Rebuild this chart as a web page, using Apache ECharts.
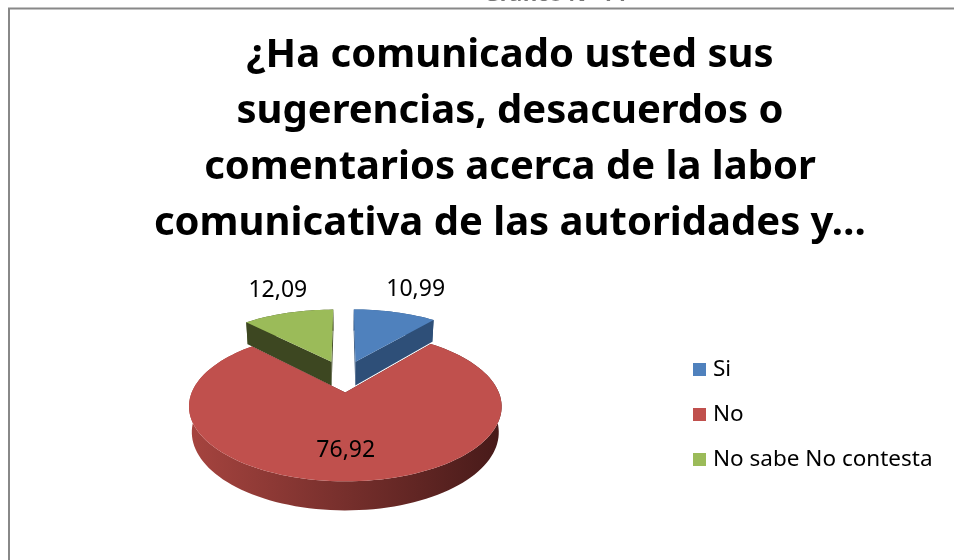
<!DOCTYPE html>
<html>
<head>
<meta charset="utf-8">
<script src="https://cdn.jsdelivr.net/npm/echarts@6/dist/echarts.min.js"></script>
<title>Gráfico</title>
<style>html,body{margin:0;padding:0;background:#fff;}</style>
</head>
<body>
<div id="main" style="width:954px;height:560px;"></div>
<script>
var categories = ['Si', 'No', 'No sabe No contesta'];
var values = [10.99, 76.92, 12.09];

var topColors = ['#4f81bd', '#c0504d', '#9bbb59'];
var wallColors = [['#3a6190', '#2e4f78'], ['#a6443f', '#471a19'], ['#4a5a28', '#3d4721']];

// 3d look of the old office chart: perspective, tilt, thickness, explosion
var view = { cx: 344, cy: 376, focal: 735, dist: 5, tilt: 0.45, thick: 0.19, explode: 0.24 };

var total = values.reduce(function (a, b) { return a + b; }, 0);
var starts = [];
var acc = 0;
values.forEach(function (v) { starts.push(acc / total * Math.PI * 2); acc += v; });

function project(x, y, z) {
    var s = view.tilt, c = Math.sqrt(1 - s * s);
    var yc = y * c - z * s;
    var d = view.dist - (y * s + z * c);
    return [view.cx + view.focal * x / d, view.cy - view.focal * yc / d];
}

function fmt(v) {
    return v.toFixed(2).replace('.', ',');
}

function renderSlice(params, api) {
    var i = params.seriesIndex;
    var v = api.value(0);
    var a0 = starts[i];
    var a1 = a0 + v / total * Math.PI * 2;
    var mid = (a0 + a1) / 2;
    var ox = view.explode * Math.sin(mid), oz = -view.explode * Math.cos(mid);
    var h = view.thick;
    var n = Math.max(2, Math.ceil((a1 - a0) / (Math.PI * 2) * 160));
    var topArc = [], botArc = [];
    for (var k = 0; k <= n; k++) {
        var a = a0 + (a1 - a0) * k / n;
        var x = ox + Math.sin(a), z = oz - Math.cos(a);
        topArc.push(project(x, 0, z));
        botArc.push(project(x, -h, z));
    }
    var cTop = project(ox, 0, oz), cBot = project(ox, -h, oz);
    var sideFill = new echarts.graphic.LinearGradient(0, 0, 1, 0, [
        { offset: 0, color: wallColors[i][0] },
        { offset: 1, color: wallColors[i][1] }
    ]);
    var children = [
        { type: 'polygon', shape: { points: topArc.concat(botArc.slice().reverse()) }, style: { fill: sideFill } },
        { type: 'polygon', shape: { points: [cTop, topArc[0], botArc[0], cBot] }, style: { fill: wallColors[i][1] } },
        { type: 'polygon', shape: { points: [cTop, topArc[n], botArc[n], cBot] }, style: { fill: wallColors[i][1] } },
        { type: 'polygon', shape: { points: [cTop].concat(topArc) }, style: { fill: topColors[i] } }
    ];
    // big slice gets its label inside, small ones above the rim
    var inside = v / total > 0.25;
    var r = inside ? 0.7 : 1.45;
    var lp = project(ox + r * Math.sin(mid), inside ? 0 : 0.04, oz - r * Math.cos(mid));
    children.push({
        type: 'text', x: lp[0] + (inside ? -4 : 6), y: lp[1],
        style: { text: fmt(v), fill: '#000', fontSize: 23, fontFamily: 'Noto Sans', align: 'center', verticalAlign: 'middle' }
    });
    return { type: 'group', children: children };
}

var myChart = echarts.init(document.getElementById('main'));

var series = categories.map(function (name, i) {
    var mid = starts[i] + values[i] / total * Math.PI;
    return {
        name: name,
        type: 'custom',
        coordinateSystem: 'none',
        z: Math.round(10 - 5 * Math.cos(mid)),
        itemStyle: { color: topColors[i] },
        renderItem: renderSlice,
        data: [[values[i]]]
    };
});

option = {
    animation: false,
    title: {
        text: '¿Ha comunicado usted sus\nsugerencias, desacuerdos o\ncomentarios acerca de la labor\ncomunicativa de las autoridades y…',
        left: 505,
        top: 23,
        textAlign: 'center',
        textStyle: { fontFamily: 'Noto Sans', fontWeight: 'bold', fontSize: 40, lineHeight: 56, color: '#000' }
    },
    legend: {
        data: categories,
        orient: 'vertical',
        left: 688,
        top: 353,
        icon: 'rect',
        itemWidth: 13,
        itemHeight: 13,
        itemGap: 22,
        textStyle: { fontFamily: 'Noto Sans', fontSize: 22.5, color: '#000', padding: [0, 0, 0, 2] }
    },
    graphic: [
        { type: 'rect', shape: { x: 9, y: 8.5, width: 1000, height: 1000 }, style: { fill: 'none', stroke: '#888', lineWidth: 2 } },
        { type: 'text', x: 555, y: 6, style: { text: 'Gráfico N° 14', fill: '#777', fontSize: 22, fontFamily: 'Noto Sans', fontWeight: 'bold', align: 'center', verticalAlign: 'bottom' } }
    ],
    series: series
};
myChart.setOption(option);
</script>
</body>
</html>
